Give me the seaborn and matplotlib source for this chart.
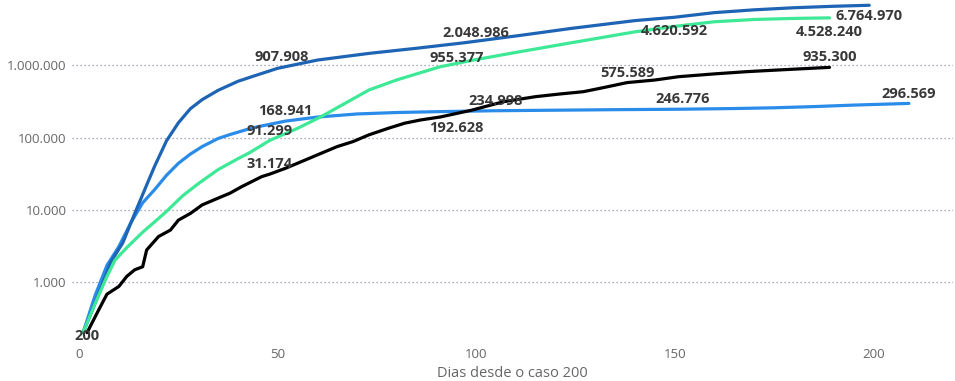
import matplotlib
matplotlib.use("Agg")
import matplotlib.pyplot as plt
import pandas as pd
import seaborn as sns
from matplotlib.ticker import FixedLocator, FuncFormatter

# Casos acumulados por dia, contados a partir do 200º caso
dias_azul_escuro = [1, 4, 8, 11, 14, 17, 19, 22, 25, 28, 31, 35, 40, 44, 50, 60, 73, 85, 97,
                    112, 124, 140, 150, 160, 170, 180, 190, 199]
casos_azul_escuro = [200, 510, 1900, 3500, 8900, 22000, 40000, 90000, 160000, 250000, 335000,
                     450000, 600000, 710000, 907908, 1180000, 1460000, 1720000, 2048986,
                     2630000, 3240000, 4150000, 4620592, 5350000, 5850000, 6250000, 6550000,
                     6764970]

dias_azul_claro = [1, 4, 7, 10, 13, 16, 19, 22, 25, 28, 31, 35, 38, 42, 45, 52, 60, 70, 80, 90,
                   105, 120, 135, 152, 165, 175, 185, 195, 209]
casos_azul_claro = [200, 650, 1700, 3100, 6600, 12500, 19000, 30000, 44000, 59000, 75000, 97000,
                    110000, 128000, 141000, 168941, 192000, 212000, 222000, 228000, 234998,
                    239000, 243000, 246776, 252000, 258000, 268000, 281000, 296569]

dias_verde = [1, 4, 7, 9, 12, 16, 19, 22, 26, 30, 35, 40, 43, 48, 55, 61, 67, 73, 80, 86, 91,
              100, 111, 124, 140, 150, 160, 170, 180, 189]
casos_verde = [200, 500, 1200, 2000, 3000, 4900, 6800, 9500, 15500, 23000, 36000, 51000, 62000,
               91299, 134000, 195000, 298000, 455000, 627000, 790000, 955377, 1200000, 1540000,
               2050000, 2900000, 3450000, 4000000, 4300000, 4450000, 4528240]

dias_preto = [2, 5, 7, 10, 12, 14, 16, 17, 20, 23, 25, 28, 31, 35, 38, 41, 46, 48, 52, 57, 61,
              65, 69, 73, 78, 82, 86, 91, 95, 99, 103, 107, 111, 115, 121, 127, 132, 138, 145,
              151, 160, 168, 176, 183, 189]
casos_preto = [200, 420, 680, 870, 1200, 1480, 1630, 2780, 4270, 5250, 7200, 8900, 11700, 14500,
               17000, 21000, 28800, 31174, 37600, 49000, 60700, 75000, 88000, 109000, 135000,
               158000, 175000, 192628, 215000, 240000, 275000, 314000, 340000, 368000, 400000,
               431000, 490000, 575589, 625000, 695000, 760000, 815000, 860000, 900000, 935300]

series = ["azul_claro", "azul_escuro", "verde", "preto"]
cores = {"azul_escuro": "#1E64B4", "azul_claro": "#2A8CE8",
         "verde": "#3DE996", "preto": "#000000"}
dados = {
    "azul_escuro": (dias_azul_escuro, casos_azul_escuro),
    "azul_claro": (dias_azul_claro, casos_azul_claro),
    "verde": (dias_verde, casos_verde),
    "preto": (dias_preto, casos_preto),
}

# Rótulos de dados: (série, dia, deslocamento x/y em pixels)
rotulos = [
    ("azul_escuro", 50, 4, 11), ("azul_escuro", 97, 12, 10),
    ("azul_escuro", 150, 0, -14), ("azul_escuro", 199, 0, -11),
    ("azul_claro", 52, 0, 10), ("azul_claro", 105, 0, 10),
    ("azul_claro", 152, 0, 10), ("azul_claro", 209, 0, 9.5),
    ("verde", 48, 0, 9.5), ("verde", 91, 16, 9), ("verde", 189, 0, -14.5),
    ("preto", 48, 0, 10), ("preto", 91, 16, -11.5), ("preto", 138, 0, 9.6),
    ("preto", 189, 0, 10), ("preto", 2, 0, -3.5),
]

ticks_y = [1000, 10000, 100000, 1000000]
ticks_x = [0, 50, 100, 150, 200]

linhas = []
for s in series:
    d, c = dados[s]
    linhas.append(pd.DataFrame({"dia": d, "casos": c, "serie": s}))
df = pd.concat(linhas, ignore_index=True)

sns.set_theme(style="white")
plt.rcParams["font.family"] = ["Open Sans", "DejaVu Sans"]

fig = plt.figure(figsize=(9.55, 3.81), dpi=100)
ax = fig.add_axes([72 / 955, 1 - 340 / 381, (953 - 72) / 955, 340 / 381])

sns.lineplot(data=df, x="dia", y="casos", hue="serie", hue_order=series, palette=cores,
             estimator=None, sort=False, legend=False, linewidth=2.3, ax=ax)

ax.set_yscale("log")
ax.set_ylim(158, 8.0e6)
ax.set_xlim(-1.8, 220.1)


def milhar(v, _pos=None):
    return f"{int(round(v)):,}".replace(",", ".")


ax.yaxis.set_major_locator(FixedLocator(ticks_y))
ax.yaxis.set_minor_locator(FixedLocator([]))
ax.yaxis.set_major_formatter(FuncFormatter(milhar))
ax.xaxis.set_major_locator(FixedLocator(ticks_x))
ax.xaxis.set_major_formatter(FuncFormatter(lambda v, p: f"{int(v)}"))

ax.grid(axis="y", which="major", color="#8C8CA0", linestyle=(0, (1, 2.2)), linewidth=0.9)
ax.grid(axis="x", visible=False)
ax.set_axisbelow(True)
for sp in ax.spines.values():
    sp.set_visible(False)
ax.tick_params(axis="both", length=0, labelsize=9.5, labelcolor="#666666")
ax.tick_params(axis="y", pad=4)
ax.tick_params(axis="x", pad=6)
ax.set_ylabel("")
ax.set_xlabel("Dias desde o caso 200", fontsize=10.5, color="#666666", labelpad=3.5)

for s, dia, dx, dy in rotulos:
    d, c = dados[s]
    valor = c[d.index(dia)]
    ax.annotate(milhar(valor), xy=(dia, valor), xytext=(dx, dy), textcoords="offset pixels",
                ha="center", va="center", fontsize=10.5, fontweight="bold", color="#383838")

fig.savefig("out.png", dpi=100)
